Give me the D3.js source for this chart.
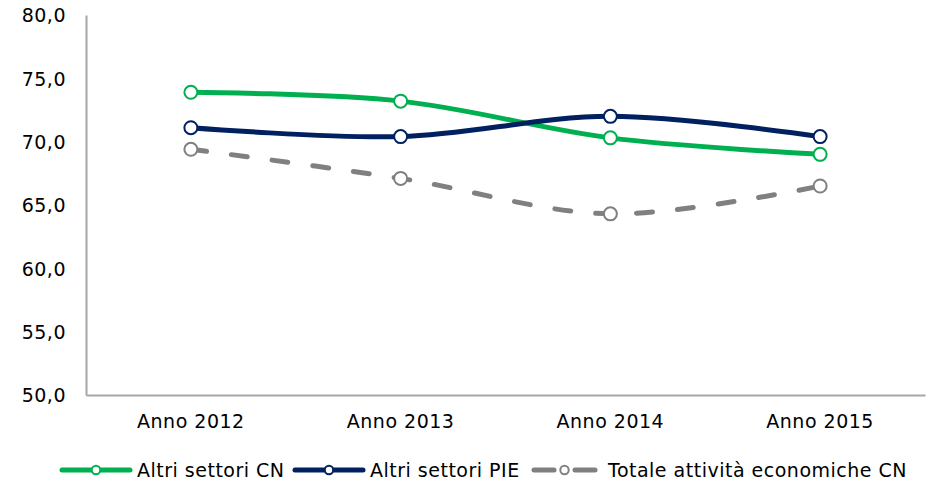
<!DOCTYPE html>
<html>
<head>
<meta charset="utf-8">
<script src="https://cdn.jsdelivr.net/npm/d3@7"></script>
<style>
  html, body { margin: 0; padding: 0; background: #fff; }
  svg { display: block; }
  text { font-family: Verdana, "DejaVu Sans", sans-serif; fill: #000; }
</style>
</head>
<body>
<svg id="chart" width="933" height="481"></svg>
<script>
// Categories and series
const categories = ["Anno 2012", "Anno 2013", "Anno 2014", "Anno 2015"];
const altriSettoriCN = [73.9, 73.2, 70.3, 69.0];
const altriSettoriPIE = [71.1, 70.4, 72.0, 70.4];
const totaleAttivitaCN = [69.4, 67.1, 64.3, 66.5];
const yTicks = [50, 55, 60, 65, 70, 75, 80];

const series = [
  { name: "Altri settori CN", values: altriSettoriCN, color: "#00B050", dash: null },
  { name: "Altri settori PIE", values: altriSettoriPIE, color: "#002060", dash: null },
  { name: "Totale attività economiche CN", values: totaleAttivitaCN, color: "#808080", dash: "16 25" }
];

const FONT = 'Verdana, "DejaVu Sans", sans-serif';
const FS = 19;
const LS = "0.5px";

const svg = d3.select("#chart");
const margin = { left: 86, right: 8, top: 15, bottom: 86 };
const W = 933, H = 481;

const x = d3.scaleBand().domain(categories).range([margin.left, W - margin.right]);
const y = d3.scaleLinear().domain([50, 80]).range([H - margin.bottom, margin.top]);

const fmt = v => d3.format(".1f")(v).replace(".", ",");

// Y axis
const yAxis = svg.append("g")
  .attr("transform", `translate(${margin.left},0)`)
  .call(d3.axisLeft(y).tickValues(yTicks).tickFormat(fmt).tickSize(0).tickPadding(20));
yAxis.select(".domain").attr("stroke", "#A6A6A6").attr("stroke-width", 2);
yAxis.selectAll("text")
  .attr("font-size", FS).attr("fill", "#000")
  .attr("dy", 0).attr("y", 6.7)
  .style("letter-spacing", LS)
  .style("font-family", FONT);

// X axis
const xAxis = svg.append("g")
  .attr("transform", `translate(0,${y(50)})`)
  .call(d3.axisBottom(x).tickSize(0));
xAxis.select(".domain").attr("stroke", "#A6A6A6").attr("stroke-width", 2);
xAxis.selectAll("text")
  .attr("font-size", FS).attr("fill", "#000")
  .attr("dy", 0).attr("y", 33)
  .style("letter-spacing", LS)
  .style("font-family", FONT);

const cx = c => x(c) + x.bandwidth() / 2;

const line = d3.line()
  .x((d, i) => cx(categories[i]))
  .y(d => y(d))
  .curve(d3.curveCatmullRom.alpha(0.5));

series.forEach(s => {
  const g = svg.append("g");
  g.append("path")
    .datum(s.values)
    .attr("d", line)
    .attr("fill", "none")
    .attr("stroke", s.color)
    .attr("stroke-width", 5)
    .attr("stroke-linecap", s.dash ? "round" : "butt")
    .attr("stroke-dasharray", s.dash);
  g.selectAll("circle")
    .data(s.values)
    .join("circle")
    .attr("cx", (d, i) => cx(categories[i]))
    .attr("cy", d => y(d))
    .attr("r", 6.5)
    .attr("fill", "#fff")
    .attr("stroke", s.color)
    .attr("stroke-width", 2);
});

// Legend
const legendItems = [
  { s: series[0], x0: 60, x1: 132, tx: 137 },
  { s: series[1], x0: 293, x1: 365, tx: 370 },
  { s: series[2], x0: 532, x1: 597, tx: 608 }
];
const ly = 470;
legendItems.forEach(it => {
  const g = svg.append("g");
  if (it.s.dash) {
    g.append("line").attr("x1", it.x0 + 2).attr("x2", it.x0 + 22).attr("y1", ly).attr("y2", ly)
      .attr("stroke", it.s.color).attr("stroke-width", 5).attr("stroke-linecap", "round");
    g.append("line").attr("x1", it.x1 - 22).attr("x2", it.x1 - 2).attr("y1", ly).attr("y2", ly)
      .attr("stroke", it.s.color).attr("stroke-width", 5).attr("stroke-linecap", "round");
  } else {
    g.append("line").attr("x1", it.x0 + 2).attr("x2", it.x1 - 2).attr("y1", ly).attr("y2", ly)
      .attr("stroke", it.s.color).attr("stroke-width", 5).attr("stroke-linecap", "round");
  }
  g.append("circle").attr("cx", (it.x0 + it.x1) / 2).attr("cy", ly).attr("r", 4.2)
    .attr("fill", "#fff").attr("stroke", it.s.color).attr("stroke-width", 2);
  g.append("text").attr("x", it.tx).attr("y", ly + 6.7)
    .attr("font-size", FS)
    .style("letter-spacing", LS)
    .text(it.s.name);
});
</script>
</body>
</html>
